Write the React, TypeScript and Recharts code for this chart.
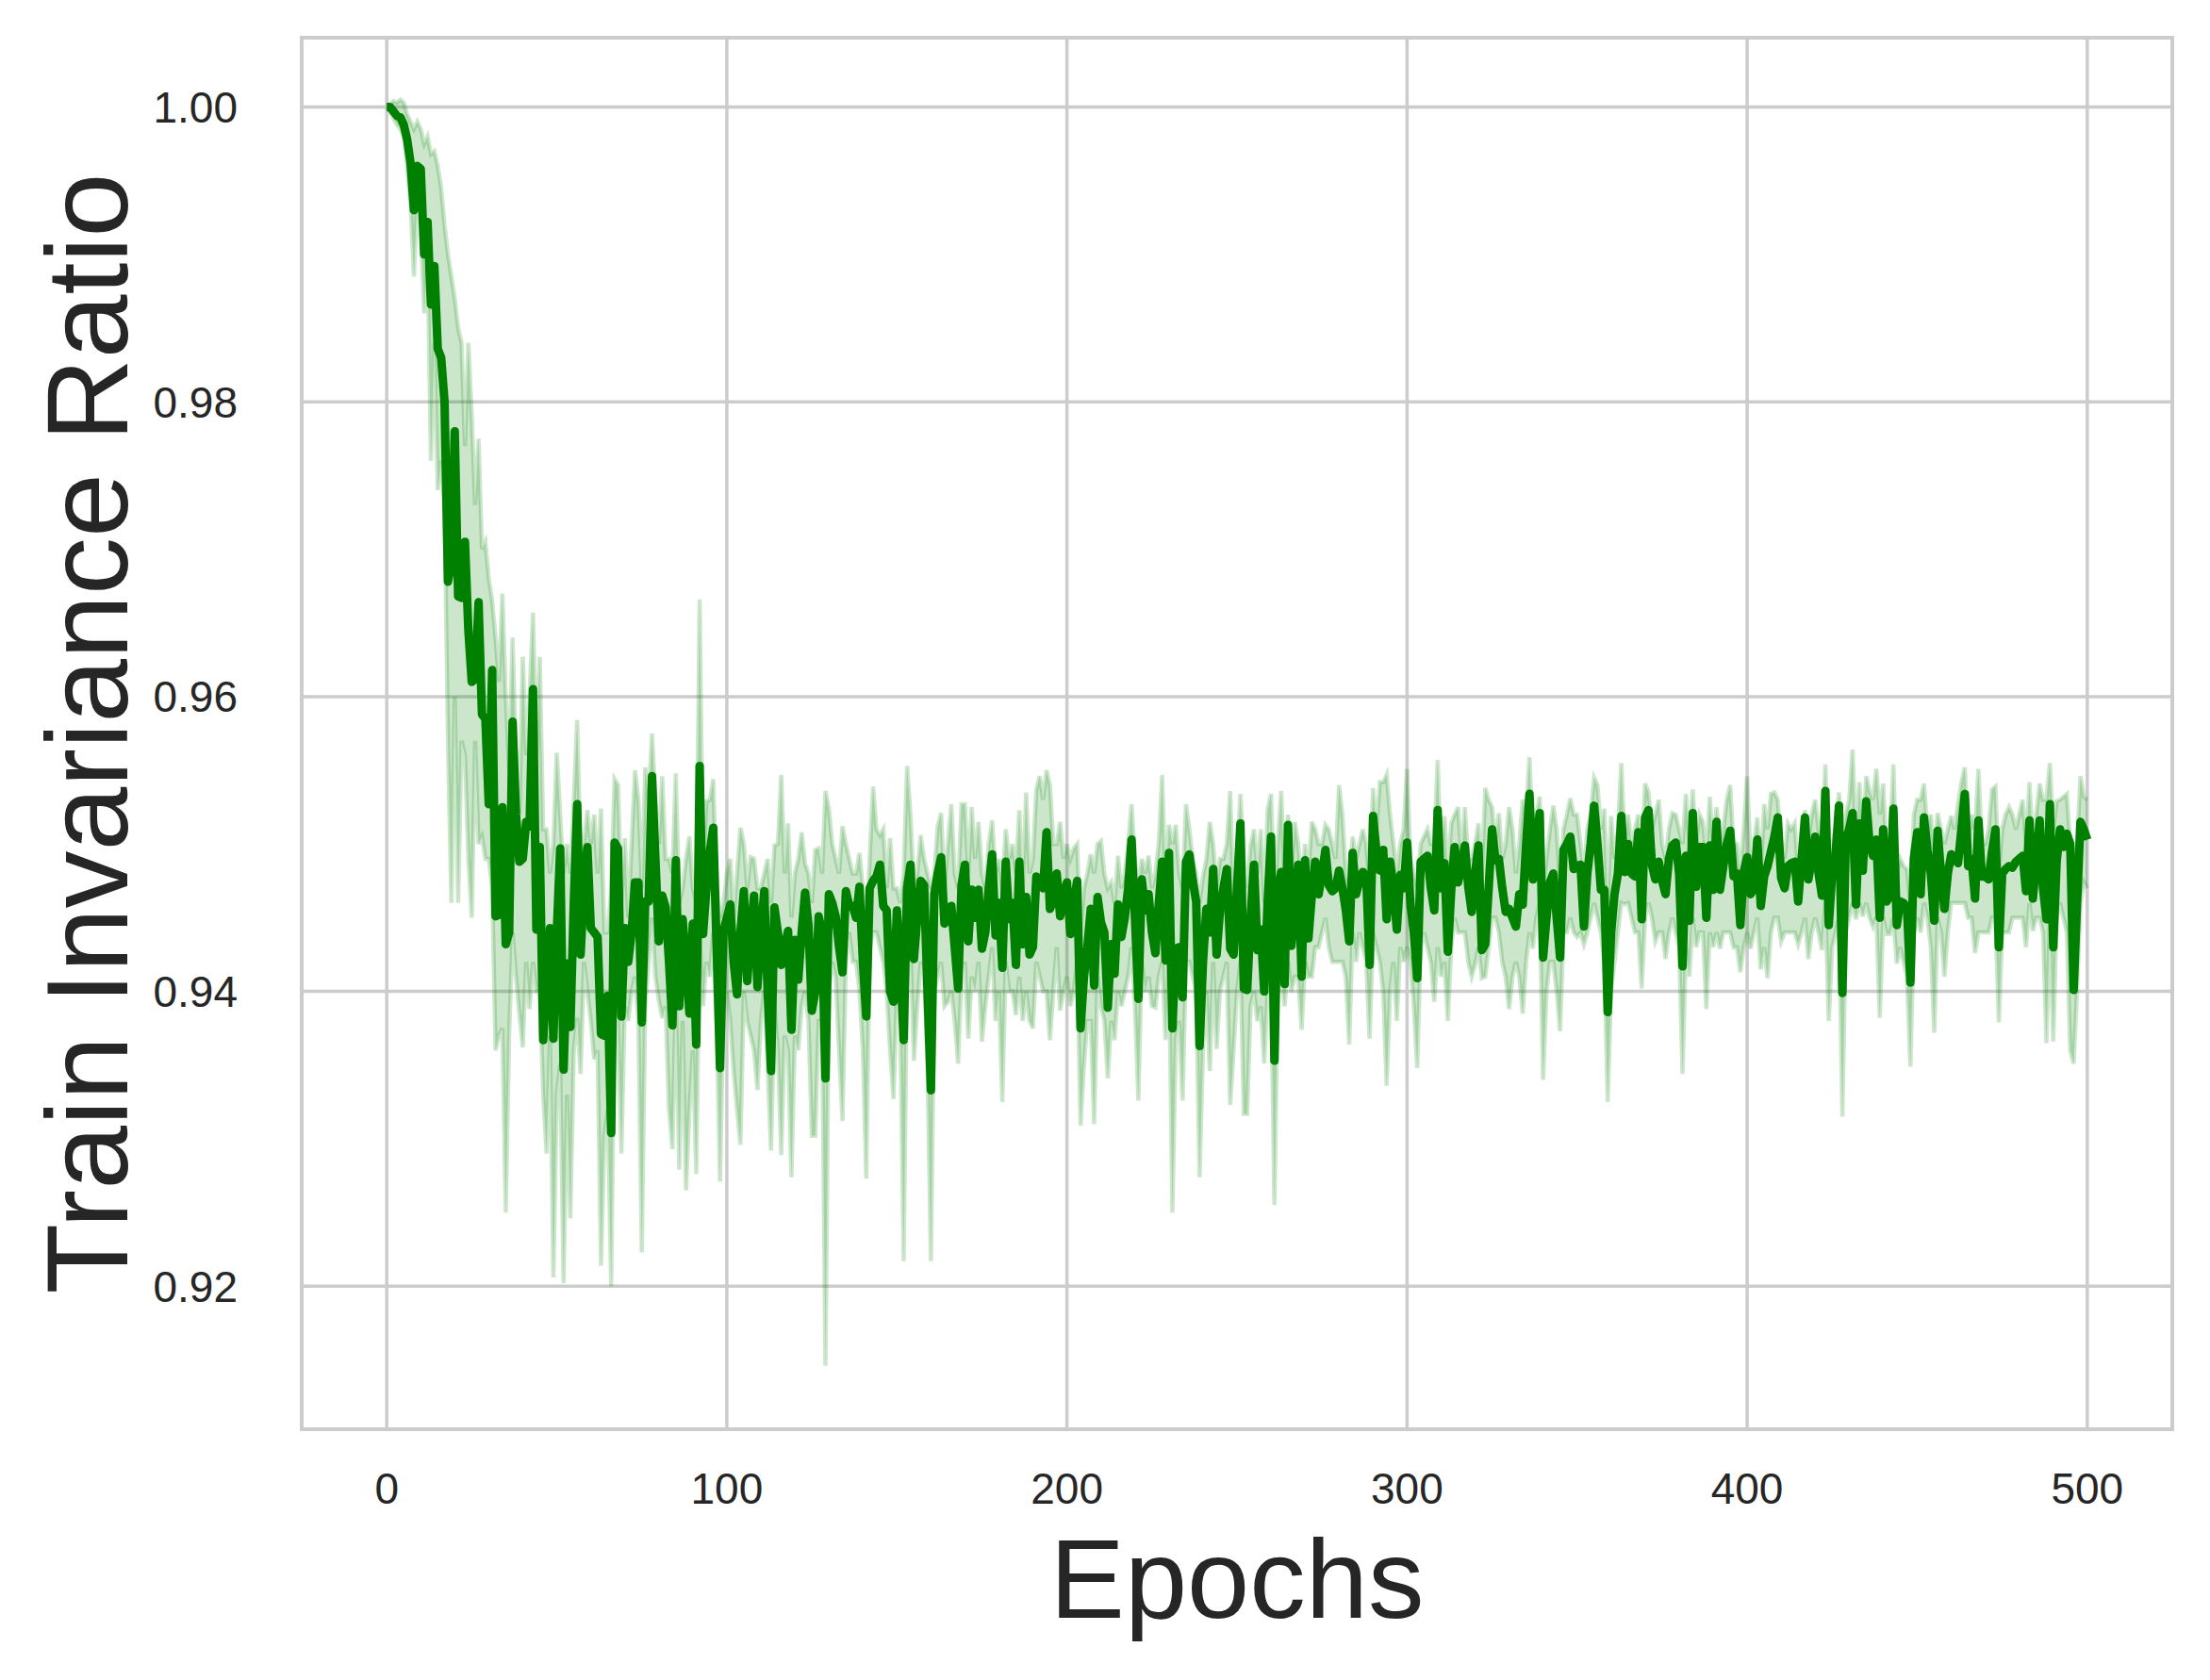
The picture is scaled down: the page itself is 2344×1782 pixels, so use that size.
import { Area, CartesianGrid, ComposedChart, Line, ReferenceArea, XAxis, YAxis } from 'recharts';

// mean train invariance ratio per epoch (0..500)
const MEAN = [
  1.0, 1.0, 0.9997, 0.9994, 0.9993, 0.9988, 0.9978, 0.9962, 0.993, 0.996,
  0.9958, 0.99, 0.9922, 0.9866, 0.9892, 0.9836, 0.983, 0.98, 0.9678, 0.969,
  0.978, 0.9668, 0.9667, 0.9705, 0.9645, 0.961, 0.9612, 0.9664, 0.9588, 0.9585,
  0.9527, 0.9618, 0.9451, 0.9452, 0.9525, 0.9432, 0.944, 0.9583, 0.952, 0.9488,
  0.949, 0.9515, 0.9512, 0.9605, 0.9442, 0.9498, 0.9367, 0.941, 0.9443, 0.9368,
  0.944, 0.9497, 0.9347, 0.9419, 0.9376, 0.946, 0.9527, 0.9425, 0.947, 0.9498,
  0.9443, 0.944, 0.9437, 0.9371, 0.937, 0.9397, 0.9304, 0.9501, 0.9497, 0.9383,
  0.9443, 0.942, 0.944, 0.9474, 0.9474, 0.9379, 0.9461, 0.9461, 0.9546, 0.949,
  0.9434, 0.9465, 0.9457, 0.942, 0.9377, 0.9489, 0.939, 0.9449, 0.942, 0.9385,
  0.9446, 0.9364, 0.9553, 0.9439, 0.947, 0.9495, 0.9511, 0.943, 0.9348, 0.9441,
  0.945, 0.9459, 0.942, 0.9398, 0.944, 0.9468, 0.9407, 0.944, 0.9465, 0.9403,
  0.944, 0.9468, 0.94, 0.9346, 0.9457, 0.944, 0.9418, 0.943, 0.9441, 0.9374,
  0.9435, 0.9408, 0.944, 0.9467, 0.9445, 0.9387, 0.94, 0.9451, 0.944, 0.9341,
  0.9466, 0.946, 0.9451, 0.943, 0.9413, 0.9468, 0.9458, 0.9458, 0.945, 0.9471,
  0.942, 0.9383, 0.947, 0.9475, 0.9478, 0.9486, 0.9458, 0.9455, 0.94, 0.9393,
  0.9455, 0.942, 0.9367, 0.947, 0.9486, 0.9422, 0.945, 0.9475, 0.9472, 0.94,
  0.9333, 0.9466, 0.948, 0.9491, 0.9446, 0.945, 0.9458, 0.943, 0.9402, 0.9472,
  0.9486, 0.9434, 0.9469, 0.945, 0.9469, 0.9429, 0.944, 0.947, 0.9493, 0.9438,
  0.946, 0.9416, 0.9488, 0.9449, 0.946, 0.9418, 0.9488, 0.9432, 0.9464, 0.9425,
  0.943, 0.9478, 0.9475, 0.947, 0.9508, 0.9456, 0.9462, 0.948, 0.9451, 0.9465,
  0.9474, 0.9439, 0.946, 0.9475, 0.9375, 0.941, 0.943, 0.9456, 0.9404, 0.9464,
  0.9447, 0.944, 0.9389, 0.9432, 0.9412, 0.9459, 0.9437, 0.945, 0.947, 0.9503,
  0.945, 0.9395, 0.9476, 0.9455, 0.9466, 0.944, 0.9426, 0.946, 0.9488, 0.9421,
  0.9494, 0.9375, 0.9429, 0.943, 0.9396, 0.9488, 0.9493, 0.9475, 0.9461, 0.9363,
  0.942, 0.9456, 0.944, 0.9483, 0.9425, 0.9455, 0.947, 0.9483, 0.9429, 0.9425,
  0.947, 0.9514, 0.9402, 0.9401, 0.945, 0.9486, 0.9428, 0.9442, 0.94, 0.946,
  0.9505, 0.9353, 0.9469, 0.9481, 0.9405, 0.9513, 0.9431, 0.946, 0.9486, 0.941,
  0.9489, 0.9436, 0.9465, 0.9488, 0.9466, 0.948, 0.9496, 0.9472, 0.9468, 0.947,
  0.9482, 0.947, 0.9455, 0.9434, 0.9494, 0.9466, 0.9475, 0.9481, 0.9478, 0.9418,
  0.9519, 0.9495, 0.9482, 0.9496, 0.9449, 0.9488, 0.947, 0.9442, 0.9479, 0.947,
  0.9501, 0.9459, 0.944, 0.9409, 0.9488, 0.949, 0.9492, 0.947, 0.9455, 0.9523,
  0.947, 0.9487, 0.9427, 0.9469, 0.9498, 0.9474, 0.9485, 0.9499, 0.9471, 0.9454,
  0.948, 0.9499, 0.9428, 0.9432, 0.947, 0.951, 0.9489, 0.949, 0.947, 0.9454,
  0.9456, 0.945, 0.9444, 0.9466, 0.9459, 0.95, 0.9534, 0.9476, 0.95, 0.9521,
  0.9423, 0.945, 0.9474, 0.948, 0.945, 0.9423, 0.9496, 0.95, 0.9505, 0.9483,
  0.9485, 0.9486, 0.9444, 0.948, 0.95, 0.9526, 0.95, 0.9469, 0.9469, 0.9386,
  0.944, 0.9466, 0.948, 0.9519, 0.9481, 0.95, 0.948, 0.9478, 0.9508, 0.9449,
  0.9518, 0.9523, 0.9486, 0.9476, 0.9488, 0.9475, 0.9466, 0.949, 0.9499, 0.9501,
  0.948, 0.9417, 0.9492, 0.9448, 0.9521, 0.9471, 0.9498, 0.9498, 0.945, 0.9499,
  0.9469, 0.9515, 0.9469, 0.9485, 0.95, 0.9509, 0.9478, 0.948, 0.9445, 0.9481,
  0.9491, 0.9466, 0.947, 0.9503, 0.9458, 0.9478, 0.9485, 0.9495, 0.9505, 0.9518,
  0.9477, 0.947, 0.9485, 0.9487, 0.9488, 0.9461, 0.949, 0.9518, 0.9476, 0.949,
  0.9505, 0.948, 0.9465, 0.9536, 0.9445, 0.948, 0.9493, 0.9526, 0.9399, 0.9503,
  0.951, 0.9521, 0.9459, 0.9514, 0.9482, 0.9529, 0.95, 0.9492, 0.9503, 0.945,
  0.951, 0.9461, 0.9465, 0.9524, 0.9445, 0.9461, 0.946, 0.9456, 0.9406, 0.949,
  0.9508, 0.9466, 0.9518, 0.9496, 0.948, 0.9448, 0.9509, 0.948, 0.9456, 0.948,
  0.9493, 0.949, 0.9487, 0.951, 0.9534, 0.9485, 0.949, 0.9463, 0.9516, 0.9478,
  0.9478, 0.9476, 0.9495, 0.951, 0.943, 0.948, 0.9483, 0.9485, 0.9484, 0.9488,
  0.949, 0.9492, 0.9468, 0.9516, 0.9463, 0.9488, 0.9516, 0.947, 0.9449, 0.9527,
  0.943, 0.9488, 0.951, 0.9498, 0.9507, 0.95, 0.9401, 0.946, 0.9515, 0.951,
  0.9503,
];

// lower edge of the shaded band
const LO = [
  1.0, 0.9997, 0.9992, 0.9988, 0.9985, 0.998, 0.996, 0.9935, 0.9885, 0.994,
  0.992, 0.986, 0.99, 0.976, 0.984, 0.974, 0.976, 0.973, 0.957, 0.946,
  0.96, 0.946, 0.957, 0.956, 0.949, 0.945, 0.957, 0.95, 0.9505, 0.949,
  0.949, 0.947, 0.936, 0.937, 0.9375, 0.925, 0.937, 0.944, 0.941, 0.9385,
  0.9362, 0.942, 0.9388, 0.942, 0.94, 0.94, 0.933, 0.929, 0.937, 0.9206,
  0.933, 0.9351, 0.9202, 0.933, 0.9246, 0.936, 0.9382, 0.9344, 0.942, 0.94,
  0.938, 0.9354, 0.936, 0.9214, 0.9302, 0.932, 0.92, 0.94, 0.938, 0.929,
  0.939, 0.938, 0.94, 0.941, 0.938, 0.9223, 0.939, 0.942, 0.945, 0.941,
  0.9394, 0.9382, 0.939, 0.932, 0.9293, 0.94, 0.9279, 0.938, 0.9265, 0.932,
  0.936, 0.9276, 0.944, 0.939, 0.942, 0.941, 0.944, 0.938, 0.9271, 0.939,
  0.94, 0.938, 0.9346, 0.932, 0.9296, 0.94, 0.938, 0.937, 0.936, 0.9333,
  0.938, 0.94, 0.935, 0.9292, 0.939, 0.936, 0.9289, 0.937, 0.936, 0.9274,
  0.937, 0.936, 0.939, 0.94, 0.938, 0.9302, 0.9302, 0.938, 0.938, 0.9146,
  0.94, 0.942, 0.941, 0.936, 0.9312, 0.942, 0.944, 0.942, 0.942, 0.94,
  0.936, 0.9273, 0.943, 0.944, 0.944, 0.943, 0.942, 0.94, 0.936, 0.9327,
  0.94, 0.938, 0.9217, 0.942, 0.943, 0.9353, 0.939, 0.942, 0.941, 0.935,
  0.9217, 0.94, 0.941, 0.942, 0.939, 0.9393, 0.94, 0.938, 0.9351, 0.941,
  0.942, 0.9368, 0.941, 0.94, 0.942, 0.9366, 0.939, 0.941, 0.943, 0.938,
  0.94, 0.9325, 0.942, 0.94, 0.94, 0.9384, 0.941, 0.938, 0.94, 0.938,
  0.9375, 0.942, 0.941, 0.94, 0.94, 0.9367, 0.94, 0.943, 0.9387, 0.94,
  0.941, 0.939, 0.94, 0.942, 0.9309, 0.935, 0.938, 0.938, 0.931, 0.941,
  0.939, 0.938, 0.9341, 0.938, 0.9367, 0.94, 0.939, 0.94, 0.941, 0.943,
  0.939, 0.9326, 0.942, 0.94, 0.941, 0.939, 0.9389, 0.941, 0.942, 0.9367,
  0.942, 0.925, 0.9368, 0.938, 0.9326, 0.942, 0.942, 0.941, 0.94, 0.9274,
  0.936, 0.94, 0.9346, 0.942, 0.9361, 0.94, 0.941, 0.942, 0.9323, 0.936,
  0.94, 0.942, 0.9317, 0.9317, 0.939, 0.94, 0.938, 0.939, 0.9351, 0.94,
  0.941, 0.9255, 0.94, 0.941, 0.939, 0.942, 0.94, 0.941, 0.941, 0.9374,
  0.942, 0.941, 0.941, 0.943, 0.943, 0.944, 0.945, 0.943, 0.942, 0.942,
  0.942, 0.942, 0.941, 0.9364, 0.944, 0.942, 0.944, 0.943, 0.942, 0.9368,
  0.944, 0.943, 0.942, 0.94, 0.9336, 0.94, 0.942, 0.938, 0.943, 0.942,
  0.943, 0.942, 0.939, 0.9348, 0.943, 0.944, 0.943, 0.942, 0.9393, 0.943,
  0.941, 0.942, 0.938, 0.943, 0.945, 0.944, 0.944, 0.944, 0.942, 0.941,
  0.9418, 0.943, 0.9409, 0.941, 0.943, 0.945, 0.945, 0.944, 0.942, 0.941,
  0.9388, 0.941, 0.942, 0.941, 0.9385, 0.942, 0.944, 0.9429, 0.945, 0.946,
  0.934, 0.94, 0.942, 0.942, 0.94, 0.9373, 0.944, 0.944, 0.945, 0.944,
  0.9437, 0.944, 0.9432, 0.944, 0.945, 0.946, 0.945, 0.944, 0.942, 0.9325,
  0.94, 0.942, 0.944, 0.946, 0.9459, 0.946, 0.945, 0.944, 0.944, 0.9402,
  0.945, 0.946, 0.945, 0.9434, 0.944, 0.944, 0.9422, 0.944, 0.945, 0.944,
  0.943, 0.9344, 0.943, 0.941, 0.945, 0.943, 0.944, 0.944, 0.9388, 0.944,
  0.943, 0.944, 0.9429, 0.944, 0.944, 0.944, 0.943, 0.943, 0.9413, 0.943,
  0.944, 0.9429, 0.944, 0.945, 0.9415, 0.943, 0.9409, 0.944, 0.945, 0.945,
  0.9434, 0.944, 0.944, 0.944, 0.944, 0.9432, 0.944, 0.945, 0.9422, 0.944,
  0.945, 0.944, 0.9428, 0.946, 0.938, 0.943, 0.944, 0.945, 0.9315, 0.944,
  0.945, 0.946, 0.9449, 0.946, 0.9451, 0.946, 0.945, 0.9444, 0.945, 0.9382,
  0.945, 0.9439, 0.9439, 0.945, 0.9419, 0.943, 0.942, 0.941, 0.9349, 0.944,
  0.945, 0.944, 0.946, 0.945, 0.943, 0.9372, 0.945, 0.944, 0.941, 0.944,
  0.946, 0.946, 0.946, 0.946, 0.946, 0.945, 0.945, 0.9426, 0.944, 0.944,
  0.944, 0.944, 0.945, 0.945, 0.9379, 0.944, 0.944, 0.944, 0.945, 0.945,
  0.945, 0.945, 0.943, 0.946, 0.9441, 0.945, 0.945, 0.944, 0.9365, 0.945,
  0.9366, 0.945, 0.946, 0.945, 0.944, 0.936, 0.9351, 0.94, 0.946, 0.9474,
  0.947,
];

// upper edge of the shaded band
const HI = [
  1.0, 1.0002, 1.0004, 1.0003, 1.0005, 1.0003, 0.9995, 0.999, 0.9985, 0.999,
  0.9985, 0.9975, 0.998, 0.9968, 0.997, 0.996, 0.9945, 0.992, 0.99, 0.9885,
  0.987, 0.985, 0.984, 0.977, 0.984, 0.979, 0.973, 0.9775, 0.97, 0.9705,
  0.968, 0.9665, 0.964, 0.961, 0.967, 0.96, 0.955, 0.964, 0.956, 0.952,
  0.9627, 0.956, 0.96, 0.9657, 0.956, 0.9627, 0.951, 0.951, 0.948, 0.95,
  0.9562, 0.952, 0.948, 0.95, 0.948, 0.953, 0.9584, 0.949, 0.95, 0.9523,
  0.95, 0.952, 0.948, 0.9524, 0.944, 0.944, 0.947, 0.9544, 0.954, 0.946,
  0.9504, 0.945, 0.95, 0.955, 0.953, 0.947, 0.9552, 0.953, 0.9575, 0.953,
  0.95, 0.9546, 0.949, 0.949, 0.948, 0.9548, 0.946, 0.947, 0.949, 0.9505,
  0.947, 0.946, 0.9666, 0.948, 0.9529, 0.953, 0.9544, 0.947, 0.945, 0.946,
  0.948, 0.949, 0.945, 0.948, 0.9511, 0.95, 0.947, 0.9491, 0.949, 0.947,
  0.947, 0.948, 0.949, 0.946, 0.9499, 0.95, 0.9547, 0.948, 0.9514, 0.945,
  0.948, 0.949, 0.9508, 0.9487, 0.948, 0.946, 0.9496, 0.9497, 0.948, 0.9536,
  0.9524, 0.95, 0.949, 0.948, 0.9512, 0.95, 0.949, 0.948, 0.948, 0.9494,
  0.947, 0.944, 0.949, 0.9539, 0.951, 0.9506, 0.951, 0.947, 0.9504, 0.947,
  0.947, 0.946, 0.948, 0.9553, 0.952, 0.947, 0.948, 0.9506, 0.949, 0.948,
  0.947, 0.948, 0.9512, 0.9521, 0.947, 0.95, 0.9527, 0.948, 0.947, 0.9527,
  0.9527, 0.948, 0.9525, 0.949, 0.9515, 0.948, 0.947, 0.95, 0.9516, 0.948,
  0.949, 0.947, 0.951, 0.949, 0.95, 0.948, 0.9523, 0.947, 0.9535, 0.948,
  0.949, 0.9537, 0.9546, 0.953, 0.955, 0.954, 0.95, 0.95, 0.9515, 0.949,
  0.95, 0.949, 0.9497, 0.95, 0.944, 0.947, 0.948, 0.9493, 0.948, 0.95,
  0.9502, 0.948, 0.947, 0.9474, 0.946, 0.9492, 0.947, 0.948, 0.95, 0.9527,
  0.949, 0.947, 0.949, 0.948, 0.9492, 0.947, 0.948, 0.95, 0.9547, 0.947,
  0.9513, 0.95, 0.9513, 0.948, 0.947, 0.9527, 0.951, 0.949, 0.948, 0.946,
  0.9478, 0.949, 0.9515, 0.95, 0.947, 0.949, 0.949, 0.95, 0.9536, 0.946,
  0.949, 0.9534, 0.949, 0.947, 0.9499, 0.951, 0.948, 0.951, 0.946, 0.9523,
  0.9534, 0.946, 0.95, 0.9536, 0.947, 0.952, 0.948, 0.9515, 0.95, 0.947,
  0.95, 0.948, 0.9515, 0.951, 0.95, 0.95, 0.9513, 0.951, 0.95, 0.949,
  0.954, 0.952, 0.948, 0.947, 0.9505, 0.949, 0.95, 0.951, 0.95, 0.947,
  0.9538, 0.951, 0.9542, 0.9542, 0.9547, 0.952, 0.95, 0.948, 0.95, 0.951,
  0.9551, 0.949, 0.948, 0.947, 0.95, 0.9505, 0.951, 0.95, 0.95, 0.9557,
  0.949, 0.9519, 0.948, 0.9514, 0.952, 0.9525, 0.949, 0.9525, 0.949, 0.949,
  0.95, 0.9514, 0.948, 0.9538, 0.953, 0.9525, 0.95, 0.9521, 0.949, 0.95,
  0.9525, 0.951, 0.948, 0.95, 0.953, 0.952, 0.9559, 0.95, 0.952, 0.9532,
  0.947, 0.949, 0.951, 0.9526, 0.951, 0.947, 0.951, 0.952, 0.9531, 0.952,
  0.952, 0.95, 0.948, 0.951, 0.952, 0.9545, 0.954, 0.951, 0.9524, 0.946,
  0.9519, 0.949, 0.951, 0.9555, 0.95, 0.952, 0.95, 0.951, 0.952, 0.949,
  0.9541, 0.9535, 0.951, 0.952, 0.953, 0.95, 0.949, 0.951, 0.9521, 0.952,
  0.951, 0.95, 0.9534, 0.95, 0.9537, 0.95, 0.952, 0.9515, 0.949, 0.9532,
  0.95, 0.9525, 0.95, 0.951, 0.953, 0.954, 0.95, 0.95, 0.948, 0.951,
  0.9546, 0.949, 0.95, 0.9518, 0.948, 0.9527, 0.951, 0.9534, 0.9535, 0.953,
  0.95, 0.949, 0.9514, 0.951, 0.9514, 0.948, 0.95, 0.9523, 0.95, 0.952,
  0.953, 0.951, 0.95, 0.9554, 0.948, 0.95, 0.951, 0.9535, 0.95, 0.952,
  0.953, 0.9564, 0.95, 0.9542, 0.95, 0.9546, 0.9536, 0.953, 0.9551, 0.952,
  0.9541, 0.949, 0.95, 0.9554, 0.948, 0.949, 0.9485, 0.9483, 0.946, 0.952,
  0.953, 0.953, 0.9541, 0.951, 0.952, 0.949, 0.9521, 0.951, 0.95, 0.951,
  0.9519, 0.951, 0.9527, 0.9542, 0.9552, 0.95, 0.952, 0.951, 0.9551, 0.95,
  0.95, 0.951, 0.9537, 0.9539, 0.948, 0.951, 0.952, 0.9525, 0.952, 0.951,
  0.952, 0.953, 0.95, 0.9542, 0.95, 0.952, 0.9541, 0.953, 0.953, 0.9555,
  0.951, 0.9529, 0.953, 0.9532, 0.9534, 0.95, 0.948, 0.95, 0.9546, 0.9532,
  0.953,
];

const X_TICKS = [0, 100, 200, 300, 400, 500];
const Y_TICKS = [0.92, 0.94, 0.96, 0.98, 1.0];

const rows = MEAN.map((v, i) => ({ epoch: i, mean: v, lo: LO[i], hi: HI[i], band: [LO[i], HI[i]] }));

const GREEN = '#008000';
const GRID = '#cccccc';
const INK = '#262626';
const FONT = '"Liberation Sans", Arial, sans-serif';
const X_MIN = -25;
const X_MAX = 525;
const Y_MIN = 0.9103;
const Y_MAX = 1.0047;

export default function App() {
  const tick = { fill: INK, fontSize: 46, fontFamily: FONT };
  return (
    <div style={{ position: 'absolute', left: 0, top: 0, width: 2344, height: 1782, background: '#fff' }}>
      <ComposedChart width={2344} height={1782} data={rows} margin={{ top: 40, right: 40, bottom: 0, left: 0 }}>
        <CartesianGrid stroke={GRID} strokeWidth={3.5} />
        <XAxis
          type="number"
          dataKey="epoch"
          domain={[X_MIN, X_MAX]}
          ticks={X_TICKS}
          allowDataOverflow
          height={266}
          tickSize={0}
          tickMargin={46}
          axisLine={false}
          tick={tick}
          label={{
            content: () => (
              <text x={1312} y={1716} textAnchor="middle" fill={INK} fontSize={119} fontFamily={FONT}>
                Epochs
              </text>
            ),
          }}
        />
        <YAxis
          type="number"
          domain={[Y_MIN, Y_MAX]}
          ticks={Y_TICKS}
          allowDataOverflow
          width={320}
          tickSize={0}
          tickMargin={68}
          axisLine={false}
          tick={tick}
          tickFormatter={(v: number) => v.toFixed(2)}
          label={{
            content: () => (
              <text
                x={135}
                y={778}
                transform="rotate(-90, 135, 778)"
                textAnchor="middle"
                fill={INK}
                fontSize={122}
                fontFamily={FONT}
              >
                Train Invariance Ratio
              </text>
            ),
          }}
        />
        <Area type="linear" dataKey="band" fill={GREEN} fillOpacity={0.2} stroke="none" isAnimationActive={false} />
        <Line type="linear" dataKey="hi" stroke={GREEN} strokeOpacity={0.2} strokeWidth={4.5} dot={false} activeDot={false} isAnimationActive={false} />
        <Line type="linear" dataKey="lo" stroke={GREEN} strokeOpacity={0.2} strokeWidth={4.5} dot={false} activeDot={false} isAnimationActive={false} />
        <Line
          type="linear"
          dataKey="mean"
          stroke={GREEN}
          strokeWidth={9}
          strokeLinejoin="round"
          dot={false}
          activeDot={false}
          isAnimationActive={false}
        />
        <ReferenceArea x1={X_MIN} x2={X_MAX} y1={Y_MIN} y2={Y_MAX} fill="none" stroke={GRID} strokeWidth={4} />
      </ComposedChart>
    </div>
  );
}
